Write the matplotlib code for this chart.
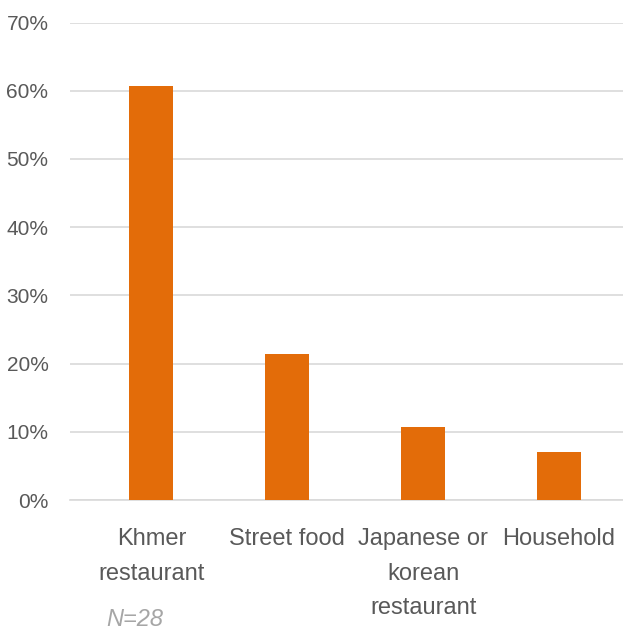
import matplotlib
matplotlib.use("Agg")
from matplotlib import pyplot as plt
import numpy as np

categories = ["Khmer\nrestaurant", "Street food", "Japanese or\nkorean\nrestaurant", "Household"]
shares = [0.607, 0.214, 0.107, 0.071]
yticks = [0.0, 0.1, 0.2, 0.3, 0.4, 0.5, 0.6, 0.7]
note = "N=28"

plt.rcParams['font.family'] = ['Liberation Sans', 'DejaVu Sans']

W, H = 623, 633
fig = plt.figure(figsize=(W / 100, H / 100), dpi=100)
ax = fig.add_axes([70 / W, (H - 500) / H, (W - 70) / W, (500 - 22.5) / H])

x = np.arange(len(categories))
ax.bar(x, shares, width=0.324, color="#E36C09", zorder=3)

ax.set_xlim(-0.600, 3.472)
ax.set_ylim(0, 0.7)
ax.set_yticks(yticks)
ax.set_yticklabels([f"{int(round(v * 100))}%" for v in yticks])
ax.set_xticks(x)
ax.set_xticklabels(categories, linespacing=1.75)

ax.grid(axis="y", color="#D9D9D9", linewidth=1.2, zorder=0)
for side in ["top", "right", "left"]:
    ax.spines[side].set_visible(False)
ax.spines["bottom"].set_color("#D9D9D9")
ax.spines["bottom"].set_linewidth(1.2)

ax.tick_params(axis="both", length=0, colors="#595959")
ax.tick_params(axis="y", pad=15.5, labelsize=15)
ax.tick_params(axis="x", pad=20, labelsize=17)

fig.text(135 / W, 1 - 619 / H, note, color="#A6A6A6", fontsize=17,
         style="italic", ha="center", va="center")

fig.savefig("out.png", dpi=100)
